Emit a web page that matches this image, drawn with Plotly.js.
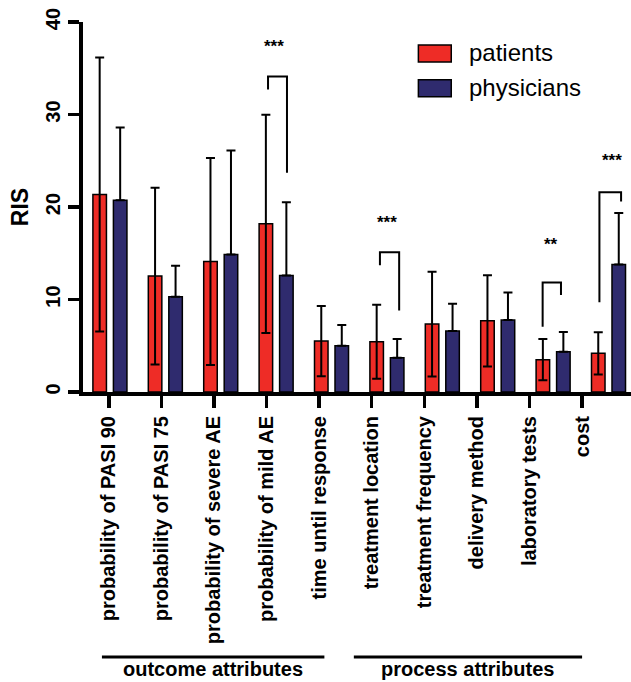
<!DOCTYPE html>
<html>
<head>
<meta charset="utf-8">
<script src="https://cdn.plot.ly/plotly-3.0.1.min.js"></script>
<style>
  html, body { margin: 0; padding: 0; background: #ffffff; }
  #chart { width: 631px; height: 682px; }
</style>
</head>
<body>
<div id="chart"></div>
<script>
// ---- data ----
const categories = [
  "probability of PASI 90",
  "probability of PASI 75",
  "probability of severe AE",
  "probability of mild AE",
  "time until response",
  "treatment location",
  "treatment frequency",
  "delivery method",
  "laboratory tests",
  "cost"
];
const seriesNames = ["patients", "physicians"];
const patientsRIS   = [21.35, 12.53, 14.11, 18.18, 5.51, 5.43, 7.34, 7.70, 3.49, 4.18];
const patientsSD    = [14.8, 9.55, 11.2, 11.8, 3.8, 4.0, 5.67, 4.93, 2.23, 2.28];
const physiciansRIS = [20.73, 10.29, 14.87, 12.60, 5.00, 3.70, 6.59, 7.78, 4.35, 13.79];
const physiciansSD  = [7.86, 3.35, 11.23, 7.92, 2.24, 2.02, 2.95, 2.99, 2.13, 5.57];
const yTicks = [0, 10, 20, 30, 40];

// significance brackets: category index, label, bracket top, left/right leg ends
const sigCategory = [3, 5, 8, 9];
const sigLabel    = ["***", "***", "**", "***"];
const sigTop      = [34.1, 15.1, 11.85, 21.6];
const sigLeftEnd  = [32.7, 13.7, 7.05, 9.7];
const sigRightEnd = [23.7, 8.8, 10.5, 20.6];
const sigLeftDx   = [-0.146, -0.126, -0.189, -0.164];
const sigRightDx  = [0.196, 0.221, 0.142, 0.227];
const sigStarY    = [37.3, 18.3, 15.9, 25.05];
const sigStarDx   = [-0.03, -0.005, -0.04, 0.06];

// groups of attributes
const groupNames = ["outcome attributes", "process attributes"];
const groupFrom  = [0, 5];
const groupTo    = [4, 9];

// ---- styling ----
const RED = "#EE2C26";
const NAVY = "#2F2B6E";
const FONT = "Liberation Sans, Arial, sans-serif";
const colors = [RED, NAVY];

const xIdx = categories.map((_, i) => i);

const traces = [
  {
    type: "bar", name: seriesNames[0], x: xIdx, y: patientsRIS, xaxis: "x2",
    marker: { color: RED, line: { color: "#000", width: 1.5 } },
    error_y: { type: "data", array: patientsSD, visible: true, color: "#000", thickness: 2, width: 4.5 },
    showlegend: false, hoverinfo: "none"
  },
  {
    type: "bar", name: seriesNames[1], x: xIdx, y: physiciansRIS, xaxis: "x2",
    marker: { color: NAVY, line: { color: "#000", width: 1.5 } },
    error_y: { type: "data", symmetric: false, array: physiciansSD,
               arrayminus: physiciansSD.map(() => 0), visible: true, color: "#000", thickness: 2, width: 4.5 },
    showlegend: false, hoverinfo: "none"
  }
];

const shapes = [];
const annotations = [];

// significance brackets (placed on the bar axis)
sigCategory.forEach((c, i) => {
  const xl = c + sigLeftDx[i], xr = c + sigRightDx[i];
  shapes.push({
    type: "path", xref: "x2", yref: "y",
    path: `M ${xl} ${sigLeftEnd[i]} L ${xl} ${sigTop[i]} L ${xr} ${sigTop[i]} L ${xr} ${sigRightEnd[i]}`,
    line: { color: "#000", width: 2 }
  });
  annotations.push({
    xref: "x2", yref: "y", x: c + sigStarDx[i], y: sigStarY[i],
    text: sigLabel[i], showarrow: false, yanchor: "middle",
    font: { family: FONT, size: 17, color: "#000", weight: "bold" }
  });
});

// group lines and labels (placed on the tick axis)
const groupLineDx0 = [-0.13, -0.34];
const groupLineDx1 = [0.10, 0.0];
groupNames.forEach((g, i) => {
  const x0 = groupFrom[i] + groupLineDx0[i];
  const x1 = groupTo[i] + groupLineDx1[i];
  shapes.push({
    type: "line", xref: "x", yref: "paper",
    x0: x0, x1: x1, y0: -0.716, y1: -0.716,
    line: { color: "#000", width: 3 }
  });
  annotations.push({
    xref: "x", yref: "paper", x: (x0 + x1) / 2, y: -0.783,
    text: "<b>" + g + "</b>", showarrow: false, yanchor: "bottom",
    font: { family: FONT, size: 20, color: "#000" }
  });
});

// custom legend
seriesNames.forEach((n, i) => {
  const yc = 0.915 - i * 0.094;
  shapes.push({
    type: "rect", xref: "paper", yref: "paper",
    x0: 0.612, x1: 0.672, y0: yc - 0.023, y1: yc + 0.023,
    fillcolor: colors[i], line: { color: "#000", width: 1.5 }
  });
  annotations.push({
    xref: "paper", yref: "paper", x: 0.70, y: yc + 0.003,
    xanchor: "left", yanchor: "middle", text: n, showarrow: false,
    font: { family: FONT, size: 24, color: "#000" }
  });
});

const layout = {
  width: 631, height: 682,
  margin: { l: 83, r: 0, t: 22, b: 290 },
  paper_bgcolor: "#fff", plot_bgcolor: "#fff",
  barmode: "group", bargap: 0.26, bargroupgap: 0.34,
  showlegend: false,
  font: { family: FONT, color: "#000" },
  xaxis: {
    range: [-0.49, 9.93],
    tickmode: "array", tickvals: xIdx, ticktext: categories,
    tickangle: -90,
    tickfont: { family: FONT, size: 20, color: "#000", weight: "bold" },
    ticks: "outside", ticklen: 12, tickwidth: 3.5, tickcolor: "#000",
    showline: true, linewidth: 4, linecolor: "#000",
    showgrid: false, zeroline: false, fixedrange: true
  },
  xaxis2: {
    overlaying: "x", anchor: "y",
    range: [-0.486, 9.406],
    visible: false, showgrid: false, zeroline: false, fixedrange: true
  },
  yaxis: {
    range: [0, 40],
    tickmode: "array", tickvals: yTicks, ticktext: yTicks.map(String),
    tickangle: -90,
    tickfont: { family: FONT, size: 20, color: "#000", weight: "bold" },
    ticks: "outside", ticklen: 11, tickwidth: 3.5, tickcolor: "#000",
    showline: true, linewidth: 4, linecolor: "#000",
    showgrid: false, zeroline: false, fixedrange: true,
    title: { text: "<b>RIS</b>", font: { family: FONT, size: 23, color: "#000" }, standoff: 8 }
  },
  shapes: shapes,
  annotations: annotations
};

Plotly.newPlot("chart", traces, layout, { displayModeBar: false, staticPlot: true });
</script>
</body>
</html>
